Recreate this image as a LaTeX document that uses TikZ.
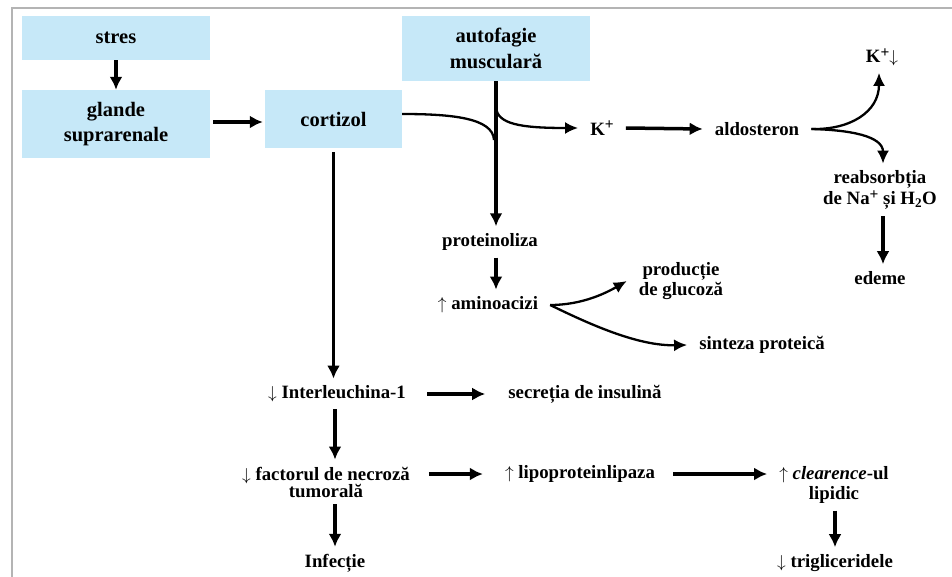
\documentclass[tikz,border=0pt]{standalone}
\usepackage{fontspec}
\setmainfont{Liberation Serif}
\usetikzlibrary{arrows.meta}
\definecolor{boxblue}{HTML}{C6E8F8}
\definecolor{framegray}{HTML}{B4B4B4}
\newcommand{\arrdn}{$\downarrow$}
\newcommand{\arrup}{$\uparrow$}
\newcommand{\plussup}{\raisebox{0.28em}{\fontsize{15.5}{15.5}\selectfont\bfseries +}}

\begin{document}
\begin{tikzpicture}[x=1pt,y=-1pt,
  box/.style={fill=boxblue, draw=none, align=center, inner sep=0pt,
    font=\fontsize{20.5}{25.5}\selectfont\bfseries},
  lbl/.style={align=center, inner xsep=12pt, inner ysep=7pt,
    font=\fontsize{18.8}{20}\selectfont\bfseries},
  arr/.style={line width=3.5pt, -{Latex[length=13pt,width=13pt]}},
  carr/.style={line width=2.3pt, -{Latex[length=13pt,width=12pt]}},
  cline/.style={line width=2.3pt},
]
\useasboundingbox (0,0) rectangle (952,576);
% frame
\draw[framegray, line width=2pt] (12,590) -- (12,8) -- (965,8);

% boxes
\node[box, minimum width=188pt, minimum height=44pt] (stres) at (116,38) {stres};
\node[box, minimum width=188pt, minimum height=68pt] (glande) at (116,124) {glande\\suprarenale};
\node[box, minimum width=137pt, minimum height=58pt] (cort) at (333.5,119) {cortizol};
\node[box, minimum width=188pt, minimum height=65pt] (auto) at (496,48.5) {autofagie\\musculară};

% labels
\node[lbl] (kp) at (602,128) {K\plussup};
\node[lbl] (aldo) at (757,129) {aldosteron};
\node[lbl] (kdown) at (882,57) {K\plussup\arrdn};
\node[lbl, font=\fontsize{18.8}{20.5}\selectfont\bfseries] (reab) at (880,190) {reabsorbția\\de Na\plussup{} și H\textsubscript{2}O};
\node[lbl] (edeme) at (880,278) {edeme};
\node[lbl] (prot) at (490,242) {proteinoliza};
\node[lbl] (amino) at (488,305) {\arrup{} aminoacizi};
\node[lbl] (prod) at (681,281) {producție\\de glucoză};
\node[lbl] (sint) at (762,345) {sinteza proteică};
\node[lbl] (il) at (337,394) {\arrdn{} Interleuchina-1};
\node[lbl] (sec) at (585,394) {secreția de insulină};
\node[lbl, font=\fontsize{18.8}{17}\selectfont\bfseries] (fact) at (326,482) {\arrdn{} factorul de necroză\\tumorală};
\node[lbl] (lip) at (580,474) {\arrup{} lipoproteinlipaza};
\node[lbl] (clr) at (834,485) {\arrup{} \textit{clearence}-ul\\lipidic};
\node[lbl] (inf) at (335,563) {Infecție};
\node[lbl] (trig) at (835,563) {\arrdn{} trigliceridele};

% junction points on the vertical line below the muscle box
\coordinate (merge) at (494,140);
\coordinate (ksplit) at (496,107);

% straight connectors
\draw[arr] (stres) -- (glande);
\draw[arr, shorten <=3pt, shorten >=2pt] ([yshift=2pt]glande.east) -- ([yshift=2pt]glande.east -| cort.west);
\draw[arr, shorten <=4pt] (cort.south) -- (cort.south |- il.north);
\draw[arr] (auto.south) -- (auto.south |- prot.north);
\draw[arr] (auto.south |- prot.south) -- (auto.south |- amino.north);
\draw[arr] (kp.east) -- (aldo.west);
\draw[arr] (reab.south -| 883,0) -- (edeme.north -| 883,0);
\draw[arr] (inf.north |- il.south) -- (inf.north |- fact.north);
\draw[arr, shorten <=9pt, shorten >=11pt] (il.east) -- (il.east -| sec.west);
\draw[arr, shorten <=7pt, shorten >=10pt] (fact.east |- lip.west) -- (lip.west);
\draw[arr, shorten <=6pt] (lip.east) -- (lip.east -| clr.west);
\draw[arr] (inf.north |- fact.south) -- (inf.north);
\draw[arr] (trig.north |- clr.south) -- (trig.north);

% curved connectors
\draw[cline] ([yshift=5pt]cort.east) .. controls (452,114) and (493,118) .. (merge);
\draw[carr] (ksplit) .. controls (497,124) and (520,128) .. (kp.west);
\draw[carr] (aldo.east) .. controls (850,130) and (879,112) .. ([xshift=-3pt]kdown.south);
\draw[carr] (aldo.east) .. controls (850,130) and (883,136) .. (reab.north -| 883,0);
\draw[carr] (amino.east) .. controls (582,305) and (606,293) .. (prod.west);
\draw[carr] (amino.east) .. controls (595,327) and (640,346) .. (sint.west);
\end{tikzpicture}
\end{document}
